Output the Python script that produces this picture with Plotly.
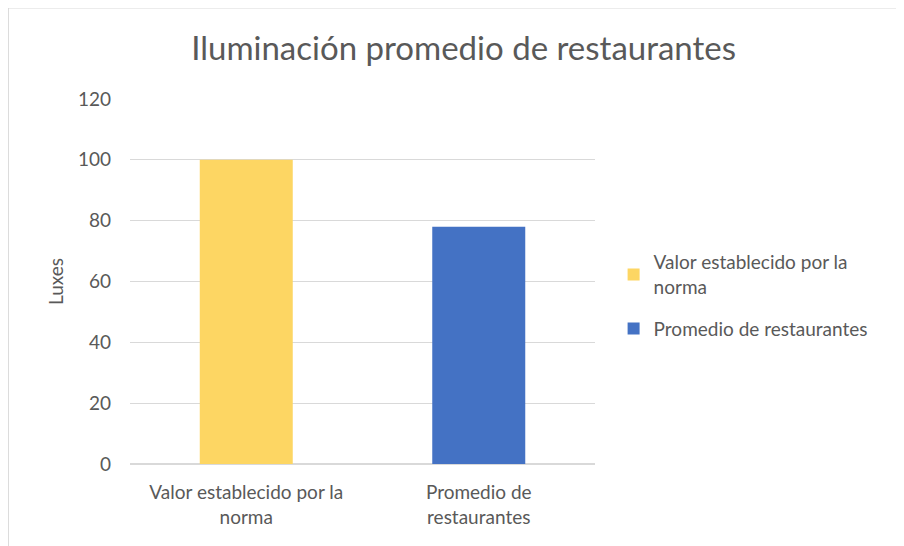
import plotly.graph_objects as go

# datos
categorias = ["Valor establecido por la<br>norma", "Promedio de<br>restaurantes"]
series = ["Valor establecido por la<br>norma", "Promedio de restaurantes"]
valores = [100, 78]
colores = ["#FDD663", "#4472C4"]

fig = go.Figure()
for cat, nombre, val, col in zip(categorias, series, valores, colores):
    fig.add_trace(go.Bar(x=[cat], y=[val], name=nombre, legendgroup=nombre,
                         marker=dict(color=col, line=dict(width=0)), width=0.4))

gris = "#595959"
fig.update_layout(
    width=904, height=546,
    paper_bgcolor="white", plot_bgcolor="white",
    barmode="overlay",
    margin=dict(l=122, r=317, t=91, b=90),
    font=dict(family="Lato, Open Sans, sans-serif", color=gris, size=19),
    title=dict(text="Iluminación promedio de restaurantes", x=0.504, xanchor="center",
               y=1 - 40 / 546, yanchor="middle", font=dict(size=33, color=gris, family="Lato, sans-serif")),
    legend=dict(x=1.04, y=0.605, xanchor="left", yanchor="top", font=dict(size=19, color=gris),
                tracegroupgap=14, itemwidth=30),
    yaxis=dict(range=[0, 120], dtick=20, showgrid=True, gridcolor="#d9d9d9", gridwidth=1,
               zeroline=True, zerolinecolor="#d9d9d9", showline=False, ticks="",
               ticklabelstandoff=18, tickfont=dict(size=19),
               title=dict(text="Luxes", font=dict(size=19, color=gris), standoff=9)),
    xaxis=dict(showline=True, linecolor="#d9d9d9", ticks="", tickfont=dict(size=19, color=gris),
               ticklabelstandoff=11),
    shapes=[dict(type="rect", xref="paper", yref="paper", x0=-0.262, x1=1.66, y0=-0.3, y1=1.25,
                 line=dict(color="#d9d9d9", width=1.5), fillcolor="rgba(0,0,0,0)", layer="below")],
)

fig.write_html("out.html")
